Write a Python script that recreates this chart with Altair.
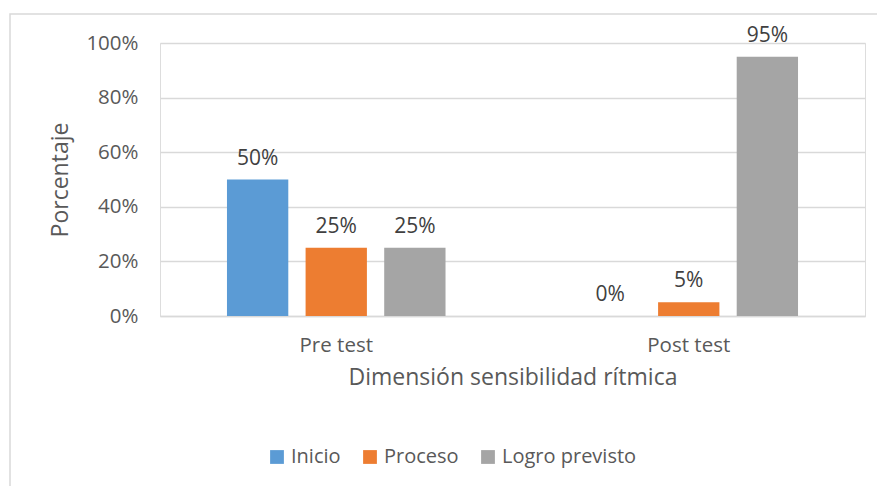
import altair as alt
import pandas as pd

groups = ["Pre test", "Post test"]
series = ["Inicio", "Proceso", "Logro previsto"]
colors = ["#5B9BD5", "#ED7D31", "#A5A5A5"]
values = {
    "Inicio": [0.50, 0.00],
    "Proceso": [0.25, 0.05],
    "Logro previsto": [0.25, 0.95],
}

rows = []
for s in series:
    for g, v in zip(groups, values[s]):
        rows.append({"grupo": g, "serie": s, "valor": v})
df = pd.DataFrame(rows)

FONT = "Open Sans"
TXT = "#595959"

x_enc = alt.X("grupo:N", sort=groups,
              scale=alt.Scale(paddingInner=0.38, paddingOuter=0.19),
              axis=alt.Axis(title="Dimensión sensibilidad rítmica", labelAngle=0,
                            ticks=False, domainColor="#d9d9d9", domainWidth=1.5,
                            labelFontSize=20.5, labelColor=TXT, labelPadding=19,
                            titleFontSize=23, titleColor=TXT, titleFontWeight="normal",
                            titlePadding=11, labelFont=FONT, titleFont=FONT))
xo_enc = alt.XOffset("serie:N", sort=series,
                     scale=alt.Scale(paddingInner=0.22, paddingOuter=0))
y_scale = alt.Scale(domain=[0, 1])

base = alt.Chart(df)

bars = base.mark_bar().encode(
    x=x_enc,
    xOffset=xo_enc,
    y=alt.Y("valor:Q", scale=y_scale,
            axis=alt.Axis(title="Porcentaje", format=".0%", values=[0, 0.2, 0.4, 0.6, 0.8, 1.0],
                          domain=False, ticks=False, gridColor="#d9d9d9", gridWidth=1.5,
                          labelFontSize=20.5, labelColor=TXT, labelPadding=22,
                          titleFontSize=23, titleColor=TXT, titleFontWeight="normal",
                          titlePadding=13, labelFont=FONT, titleFont=FONT)),
    color=alt.Color("serie:N", sort=series,
                    scale=alt.Scale(domain=series, range=colors),
                    legend=alt.Legend(title=None, orient="none", direction="horizontal",
                                      legendX=107, legendY=404,
                                      symbolType="square", symbolSize=190,
                                      symbolStrokeWidth=0,
                                      labelFontSize=20, labelColor=TXT, labelFont=FONT,
                                      labelOffset=4, columnPadding=19)),
)

labels = base.mark_text(baseline="alphabetic", dy=-15, fontSize=21,
                        color="#404040", font=FONT).encode(
    x=alt.X("grupo:N", sort=groups),
    xOffset=alt.XOffset("serie:N", sort=series),
    y=alt.Y("valor:Q", scale=y_scale),
    text=alt.Text("valor:Q", format=".0%"),
)

border = alt.Chart(pd.DataFrame({"a": [0]})).mark_rect(
    fill=None, stroke="#d9d9d9", strokeWidth=1.5
).encode(x=alt.value(-150), x2=alt.value(723), y=alt.value(-29), y2=alt.value(460))

chart = alt.layer(border, bars, labels).properties(
    width=705, height=273,
    autosize=alt.AutoSizeParams(type="none"),
    padding={"left": 152, "top": 35, "right": 12, "bottom": 170},
).configure_view(stroke=None).configure(background="white")

chart.save("out.html", embed_options={"renderer": "svg", "actions": False})
